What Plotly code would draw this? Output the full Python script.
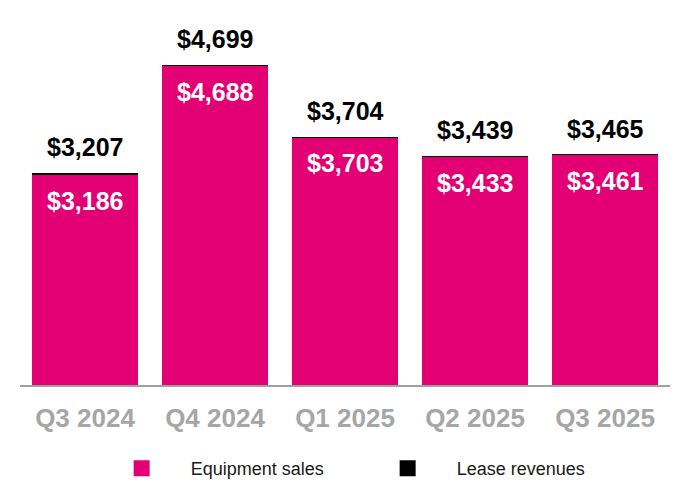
import plotly.graph_objects as go

categories = ["Q3 2024", "Q4 2024", "Q1 2025", "Q2 2025", "Q3 2025"]
equipment_sales = [3186, 4688, 3703, 3433, 3461]
lease_revenues = [21, 11, 1, 6, 4]
totals = [3207, 4699, 3704, 3439, 3465]

MAGENTA = "#E20074"
fig = go.Figure()
fig.add_trace(go.Bar(x=categories, y=equipment_sales, name="Equipment sales",
                     marker=dict(color=MAGENTA, line=dict(width=0)), showlegend=False))
fig.add_trace(go.Bar(x=categories, y=lease_revenues, name="Lease revenues",
                     marker=dict(color="#000000", line=dict(width=0)), showlegend=False))
# legend entries
fig.add_trace(go.Scatter(x=[None], y=[None], mode="markers", name="Equipment sales",
                         marker=dict(symbol="square", size=16, color=MAGENTA)))
fig.add_trace(go.Scatter(x=[None], y=[None], mode="markers", name="Lease revenues",
                         marker=dict(symbol="square", size=16, color="#000000")))

for c, t in zip(categories, totals):
    fig.add_annotation(x=c, y=t, yshift=26, text=f"${t:,}", showarrow=False,
                       yanchor="middle", font=dict(family="Arial, Liberation Sans", size=25, color="#000000"))
for c, e in zip(categories, equipment_sales):
    fig.add_annotation(x=c, y=e, yshift=-26, text=f"${e:,}", showarrow=False,
                       yanchor="middle", font=dict(family="Arial, Liberation Sans", size=25, color="#FFFFFF"))

fig.update_layout(
    width=690, height=500,
    margin=dict(l=12, r=28, t=12, b=123, autoexpand=False),
    barmode="stack", bargap=0.19,
    plot_bgcolor="white", paper_bgcolor="white",
    font=dict(family="Arial, Liberation Sans", color="#1a1a1a"),
    xaxis=dict(showline=True, linecolor="#A0A0A0", linewidth=2, ticks="", ticklen=0,
               tickfont=dict(family="Arial, Liberation Sans", size=26, color="#A6A6A6", weight="bold"),
               ticklabelstandoff=9, showgrid=False, fixedrange=True),
    yaxis=dict(range=[290, 5319], visible=False, showgrid=False, fixedrange=True),
    legend=dict(orientation="h", x=0.521, xanchor="center", y=-0.229, yanchor="middle",
                traceorder="normal",
                font=dict(size=18, color="#1a1a1a"), itemwidth=88, entrywidth=163),
    showlegend=True,
)
fig.update_annotations(font_weight="bold")

fig.write_html("out.html")
